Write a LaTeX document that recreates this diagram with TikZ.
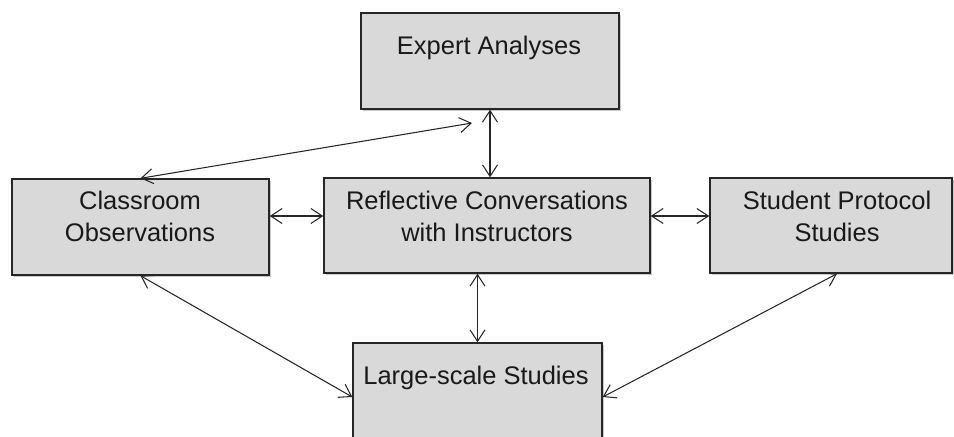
\documentclass[tikz,border=0pt]{standalone}
\usepackage{fontspec}
\setmainfont{Liberation Sans}
\usetikzlibrary{arrows.meta,shadows}

\tikzset{
  box/.style={draw=black!85, line width=0.8pt, fill=black!15, rectangle,
    drop shadow={shadow xshift=1.2pt, shadow yshift=-1.2pt, opacity=0.35, fill=black!60}},
  boxtext/.style={align=center, font=\fontsize{14.5}{18.2}\selectfont, text=black!90},
  link/.style={black!85, line width=0.6pt,
    {Straight Barb[length=2.3mm,width=3mm]}-{Straight Barb[length=2.3mm,width=3mm]}}
}

\begin{document}
\begin{tikzpicture}[x=0.2mm,y=-0.2mm]
	\useasboundingbox (0,0) rectangle (954,436);
	\node[box, minimum width=258*0.2mm, minimum height=96*0.2mm] (expert) at (490,61) {};
	\node[box, minimum width=257*0.2mm, minimum height=96*0.2mm] (classroom) at (140.5,227) {};
	\node[box, minimum width=326*0.2mm, minimum height=95*0.2mm] (refl) at (487,225.5) {};
	\node[box, minimum width=242*0.2mm, minimum height=95*0.2mm] (student) at (831,225.5) {};
	\node[box, minimum width=249*0.2mm, minimum height=96*0.2mm] (large) at (477.5,391) {};
	\node[boxtext] (expert-t) at (489,48) {Expert Analyses};
	\node[boxtext] (classroom-t) at (140,216) {Classroom\\Observations};
	\node[boxtext] (refl-t) at (487,216) {Reflective Conversations\\with Instructors};
	\node[boxtext] (student-t) at (837,216) {Student Protocol\\Studies};
	\node[boxtext] (large-t) at (476,378) {Large-scale Studies};
	\coordinate (ea) at (472,123);
	\draw[link] (expert.south) -- (expert.south |- refl.north);
	\draw[link] (classroom.north) -- (ea);
	\draw[link] (refl-t -| classroom.east) -- (refl-t -| refl.west);
	\draw[link] (refl-t -| refl.east) -- (refl-t -| student.west);
	\draw[link] (large.north |- refl.south) -- (large.north);
	\draw[link] (classroom.south) -- ([yshift=-1.2mm]large.west);
	\draw[link] (student-t |- student.south) -- ([yshift=-1.2mm]large.east);
\end{tikzpicture}
\end{document}
